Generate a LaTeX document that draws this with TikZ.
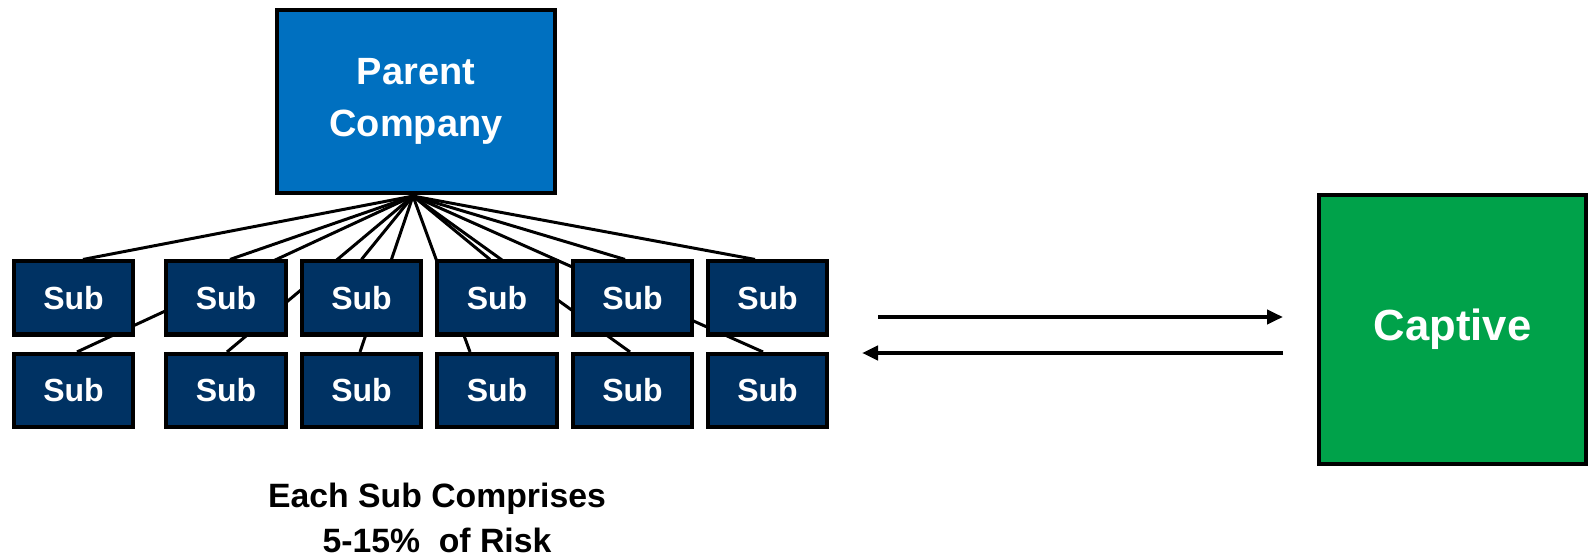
\documentclass[tikz,border=0pt]{standalone}
\usepackage{fontspec}
\setmainfont{Liberation Sans}
\usepackage{tikz}
\usetikzlibrary{arrows.meta, positioning, calc, backgrounds}
\usepackage{xcolor}
\definecolor{parentblue}{HTML}{0070C0}
\definecolor{subnavy}{HTML}{003263}
\definecolor{captivegreen}{HTML}{00A24A}

\tikzset{
    subbox/.style={draw=black, line width=1.15pt, fill=subnavy, text=white,
        minimum width=1.19cm, minimum height=0.73cm, inner sep=0pt,
        font=\bfseries\fontsize{9.1}{11}\selectfont},
    link/.style={line width=0.85pt, black},
    flow/.style={line width=1.15pt, -{Triangle[length=0.16cm, width=0.14cm]}}
}

\begin{document}
\begin{tikzpicture}[x=0.01cm, y=-0.01cm]
        \useasboundingbox (0,0) rectangle (1589,555);

        % Capogruppo
        \node[draw=black, line width=1.15pt, fill=parentblue, text=white,
              minimum width=2.78cm, minimum height=1.83cm, align=center,
              font=\bfseries\fontsize{10.8}{14.8}\selectfont] (parent) at (416,101.5) {Parent\\Company};
        \coordinate (hub) at ($(parent.south)+(-3,1)$);

        % Controllate, riga superiore
        \node[subbox] (t1) at (73.5,298) {Sub};
        \node[subbox] (t2) at (226,298) {Sub};
        \node[subbox] (t3) at (361.5,298) {Sub};
        \node[subbox] (t4) at (497,298) {Sub};
        \node[subbox] (t5) at (632.5,298) {Sub};
        \node[subbox] (t6) at (767.5,298) {Sub};

        % Controllate, riga inferiore
        \node[subbox] (b1) at (73.5,390.5) {Sub};
        \node[subbox] (b2) at (226,390.5) {Sub};
        \node[subbox] (b3) at (361.5,390.5) {Sub};
        \node[subbox] (b4) at (497,390.5) {Sub};
        \node[subbox] (b5) at (632.5,390.5) {Sub};
        \node[subbox] (b6) at (767.5,390.5) {Sub};

        % Collegamenti (dietro le caselle)
        \begin{pgfonlayer}{background}
        \draw[link] (hub) -- ($(t1.north)+(9.5,0)$);
        \draw[link] (hub) -- ($(t2.north)+(4,0)$);
        \draw[link] (hub) -- (t3.north);
        \draw[link] (hub) -- ($(t4.north)+(-7,0)$);
        \draw[link] (hub) -- ($(t5.north)+(-7.5,0)$);
        \draw[link] (hub) -- ($(t6.north)+(-12.5,0)$);
        \draw[link] (hub) -- ($(b1.north)+(3.5,0)$);
        \draw[link] (hub) -- ($(b2.north)+(1,0)$);
        \draw[link] (hub) -- ($(b3.north)+(-1.5,0)$);
        \draw[link] (hub) -- ($(b4.north)+(-27,0)$);
        \draw[link] (hub) -- ($(b5.north)+(-2.5,0)$);
        \draw[link] (hub) -- ($(b6.north)+(-4.5,0)$);
        \end{pgfonlayer}

        % Captive
        \node[draw=black, line width=1.15pt, fill=captivegreen, text=white,
              minimum width=2.67cm, minimum height=2.69cm,
              font=\bfseries\fontsize{12.4}{15}\selectfont] (captive) at (1452.5,329.5) {Captive};

        % Flussi
        \coordinate (outA) at (878,317);
        \coordinate (outB) at (1283,317);
        \coordinate (inA) at (1283,353);
        \coordinate (inB) at (862,353);
        \draw[flow] (outA) -- (outB);
        \draw[flow] (inA) -- (inB);

        % Nota
        \node[align=center, inner sep=0pt, font=\bfseries\fontsize{9.6}{12.8}\selectfont] (note) at (437,518) {Each Sub Comprises\\5-15\%\ \ of Risk};
    \end{tikzpicture}
\end{document}
